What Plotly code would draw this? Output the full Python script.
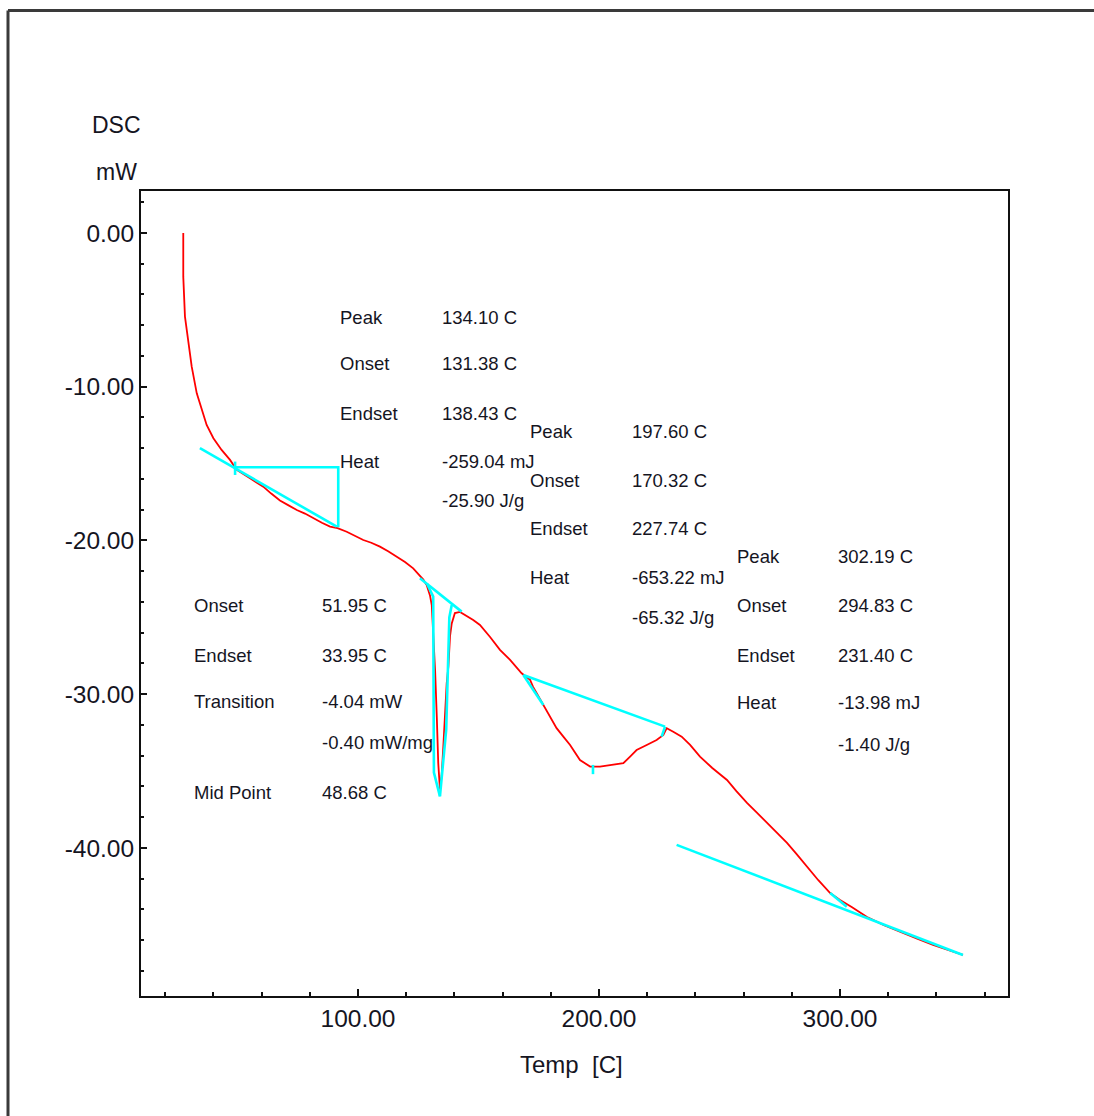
import plotly.graph_objects as go

# ---- DSC curve ----
temp_c = [27.5, 27.5, 28.2, 29.5, 31.0, 33.1, 35.1, 37.2, 40.0, 43.4, 46.9, 49.7, 55.2, 60.7, 64.0,
          67.6, 71.0, 74.6, 78.0, 81.5, 85.0, 88.4, 91.5, 95.3, 98.5, 102.2, 105.5, 109.1, 112.5,
          116.1, 119.5, 122.9, 125.7, 127.1, 128.5, 129.9, 130.6, 131.2, 132.0, 132.7, 133.3, 134.0,
          134.7, 135.4, 136.1, 136.8, 137.5, 138.2, 138.9, 140.2, 142.3, 144.4, 147.8, 150.6, 154.8,
          158.9, 163.1, 167.9, 171.4, 172.6, 176.9, 179.7, 182.4, 185.2, 188.0, 192.1, 196.3, 200.4,
          204.6, 210.1, 212.9, 215.6, 219.8, 223.9, 226.7, 228.1, 230.8, 234.3, 237.8, 241.9, 247.0,
          253.1, 257.0, 261.4, 265.5, 269.7, 274.0, 278.0, 282.0, 286.3, 291.0, 295.9, 300.0, 305.0,
          311.2, 318.0, 324.9, 332.0, 338.6, 345.0, 351.0]
dsc_mw = [0.0, -2.84, -5.44, -6.96, -8.70, -10.43, -11.51, -12.49, -13.35, -14.11, -14.76, -15.41,
          -15.96, -16.50, -16.95, -17.40, -17.70, -18.02, -18.25, -18.56, -18.85, -19.10, -19.20,
          -19.43, -19.70, -19.97, -20.15, -20.40, -20.70, -21.05, -21.40, -21.81, -22.30, -22.55,
          -22.90, -23.60, -24.20, -26.00, -28.50, -31.50, -34.50, -36.20, -35.30, -33.40, -30.80,
          -29.30, -28.20, -26.20, -25.40, -24.72, -24.65, -24.85, -25.17, -25.50, -26.28, -27.12,
          -27.77, -28.64, -29.07, -29.51, -30.70, -31.46, -32.21, -32.76, -33.30, -34.28, -34.71,
          -34.71, -34.60, -34.49, -34.06, -33.63, -33.30, -32.98, -32.65, -32.21, -32.44, -32.76,
          -33.30, -34.06, -34.80, -35.58, -36.30, -37.07, -37.70, -38.37, -39.00, -39.67, -40.40,
          -41.24, -42.10, -42.93, -43.38, -43.85, -44.49, -45.00, -45.46, -45.90, -46.31, -46.65,
          -46.96]

# ---- analysis construction lines (cyan), segments separated by None ----
base_x = [34.4, 91.2, None,
          49.0, 49.0, None,
          49.0, 91.8, 91.8, None,
          125.7, 143.0, None,
          128.6, 131.2, 131.5, 134.0, None,
          138.9, 137.9, 136.6, 134.0, None,
          168.6, 227.4, None,
          168.6, 176.9, None,
          197.5, 197.5, None,
          226.0, 227.4, None,
          232.2, 351.0, None,
          295.9, 302.8]
base_y = [-14.0, -19.1, None,
          -14.87, -15.74, None,
          -15.24, -15.24, -19.14, None,
          -22.46, -24.63, None,
          -22.8, -23.65, -35.1, -36.65, None,
          -24.2, -25.0, -32.3, -36.65, None,
          -28.75, -32.11, None,
          -28.75, -30.7, None,
          -34.6, -35.2, None,
          -32.76, -32.11, None,
          -39.8, -46.96, None,
          -42.93, -43.82]

# ---- axis ticks ----
x_tick_vals = [100, 200, 300]
x_tick_text = ["100.00", "200.00", "300.00"]
y_tick_vals = [0, -10, -20, -30, -40]
y_tick_text = ["0.00", "-10.00", "-20.00", "-30.00", "-40.00"]

# ---- analysis result texts ----
peak1_labels = ["Peak", "Onset", "Endset", "Heat"]
peak1_values = ["134.10 C", "131.38 C", "138.43 C", "-259.04 mJ", "-25.90 J/g"]
peak2_labels = ["Peak", "Onset", "Endset", "Heat"]
peak2_values = ["197.60 C", "170.32 C", "227.74 C", "-653.22 mJ", "-65.32 J/g"]
peak3_labels = ["Peak", "Onset", "Endset", "Heat"]
peak3_values = ["302.19 C", "294.83 C", "231.40 C", "-13.98 mJ", "-1.40 J/g"]
tg_labels = ["Onset", "Endset", "Transition", "Mid Point"]
tg_values = ["51.95 C", "33.95 C", "-4.04 mW", "-0.40 mW/mg", "48.68 C"]

FONT = "Liberation Sans Narrow, Arial Narrow, Liberation Sans, Arial, sans-serif"
TXT = "#15151f"
ANN_SIZE = 18.5

fig = go.Figure()
fig.add_trace(go.Scatter(x=temp_c, y=dsc_mw, mode="lines",
                         line=dict(color="#ff0000", width=1.8), hoverinfo="skip"))
fig.add_trace(go.Scatter(x=base_x, y=base_y, mode="lines", connectgaps=False,
                         line=dict(color="#00ffff", width=2.6), hoverinfo="skip"))

annotations = []

def add_block(labels, label_ys, values, value_ys, lx, vx):
    for t, y in zip(labels, label_ys):
        annotations.append(dict(x=lx, y=y, xref="x", yref="y", text=t, showarrow=False,
                                xanchor="left", yanchor="middle",
                                font=dict(family=FONT, size=ANN_SIZE, color=TXT)))
    for t, y in zip(values, value_ys):
        annotations.append(dict(x=vx, y=y, xref="x", yref="y", text=t, showarrow=False,
                                xanchor="left", yanchor="middle",
                                font=dict(family=FONT, size=ANN_SIZE, color=TXT)))

add_block(peak1_labels, [-5.53, -8.52, -11.71, -14.89],
          peak1_values, [-5.53, -8.52, -11.71, -14.89, -17.37], 91.8, 134.2)
add_block(peak2_labels, [-12.94, -16.07, -19.25, -22.44],
          peak2_values, [-12.94, -16.07, -19.25, -22.44, -24.98], 170.7, 213.0)
add_block(peak3_labels, [-21.07, -24.26, -27.45, -30.57],
          peak3_values, [-21.07, -24.26, -27.45, -30.57, -33.24], 256.6, 298.5)
add_block(tg_labels, [-24.26, -27.45, -30.50, -36.42],
          tg_values, [-24.26, -27.45, -30.50, -33.17, -36.42], 31.3, 84.4)

annotations += [
    dict(x=-0.0277, y=1.082, xref="paper", yref="paper", text="DSC", showarrow=False,
         xanchor="center", yanchor="middle", font=dict(family=FONT, size=23, color=TXT)),
    dict(x=-0.0277, y=1.0236, xref="paper", yref="paper", text="mW", showarrow=False,
         xanchor="center", yanchor="middle", font=dict(family=FONT, size=23, color=TXT)),
    dict(x=0.497, y=-0.0857, xref="paper", yref="paper", text="Temp  [C]", showarrow=False,
         xanchor="center", yanchor="middle", font=dict(family=FONT, size=24, color=TXT)),
]

shapes = [
    dict(type="line", xref="paper", yref="paper", x0=-0.1534, x1=1.12, y0=1.2242, y1=1.2242,
         line=dict(color="#3a3a3a", width=3)),
    dict(type="line", xref="paper", yref="paper", x0=-0.1534, x1=-0.1534, y0=1.2242, y1=-0.2,
         line=dict(color="#3a3a3a", width=3)),
]

fig.update_layout(
    width=1094, height=1116,
    margin=dict(l=141, r=86, t=191, b=120),
    paper_bgcolor="white", plot_bgcolor="white",
    showlegend=False,
    annotations=annotations,
    shapes=shapes,
    xaxis=dict(range=[9.96, 369.7], showgrid=False, zeroline=False,
               showline=True, linecolor="#111111", linewidth=2, mirror=True,
               ticks="inside", ticklen=7, tickwidth=1.5, tickcolor="#111111",
               tickvals=x_tick_vals, ticktext=x_tick_text,
               tickfont=dict(family=FONT, size=24.5, color=TXT),
               minor=dict(dtick=20, tick0=0, ticks="inside", ticklen=4, tickwidth=1.5,
                          tickcolor="#111111", showgrid=False)),
    yaxis=dict(range=[-49.63, 2.73], showgrid=False, zeroline=False,
               showline=True, linecolor="#111111", linewidth=2, mirror=True,
               ticks="inside", ticklen=6, tickwidth=1.5, tickcolor="#111111",
               tickvals=y_tick_vals, ticktext=y_tick_text,
               tickfont=dict(family=FONT, size=24.5, color=TXT),
               minor=dict(dtick=2, tick0=0, ticks="inside", ticklen=3, tickwidth=1.5,
                          tickcolor="#111111", showgrid=False)),
)

fig.write_html("out.html")
